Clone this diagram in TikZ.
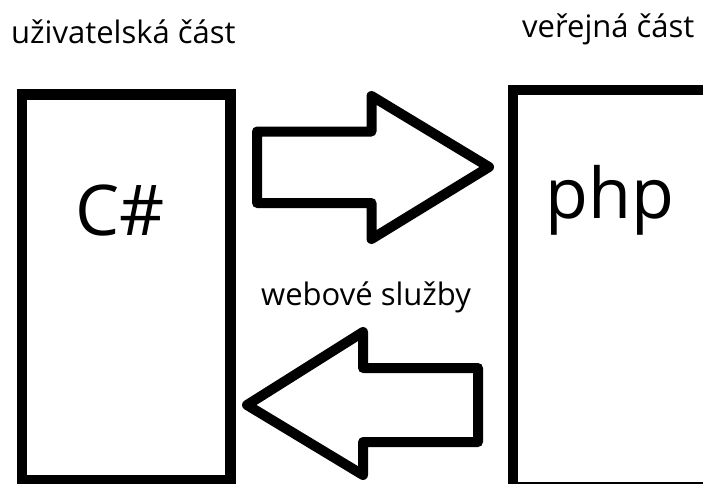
\documentclass[tikz,border=0pt]{standalone}
\usepackage{fontspec}
\setmainfont{Open Sans}
\begin{document}
\begin{tikzpicture}[x=1pt,y=-1pt,
  box/.style={draw, line width=10.5pt, fill=white, inner sep=0pt, anchor=north west},
  blockarrow/.style={draw, line width=10pt, line join=round},
  caption/.style={font=\fontsize{31}{34}\selectfont, anchor=base west, inner sep=0pt},
  biglabel/.style={font=\fontsize{70}{80}\selectfont, anchor=base west, inner sep=0pt}]
\useasboundingbox (0,0) rectangle (703,483);
\clip (0,0) rectangle (703,483);

% the two parts of the system
\node[box, minimum width=208.5pt, minimum height=385.5pt] (user) at (16.5,89) {};
\node[box, minimum width=222.5pt, minimum height=397.5pt] (public) at (507.5,84.5) {};

% headings
\node[caption] (userlabel) at (11,43) {uživatelská část};
\node[caption] (publabel) at (522,37) {veřejná část};

% languages inside the boxes
\node[biglabel] (cs) at (75,235) {C\#};
\node[biglabel] (php) at (545,218) {php};

% data flow: client to server
\draw[blockarrow] (257,131.5) -- (371.5,131.5) -- (371.5,96) -- (489,167)
  -- (371.5,239) -- (371.5,203) -- (257,203) -- cycle;

% data flow: server back to client
\node[caption] (ws) at (261,305) {webové služby};
\draw[blockarrow] (478,368) -- (363,368) -- (363,332) -- (247,405)
  -- (363,475) -- (363,442) -- (478,442) -- cycle;
\end{tikzpicture}
\end{document}
